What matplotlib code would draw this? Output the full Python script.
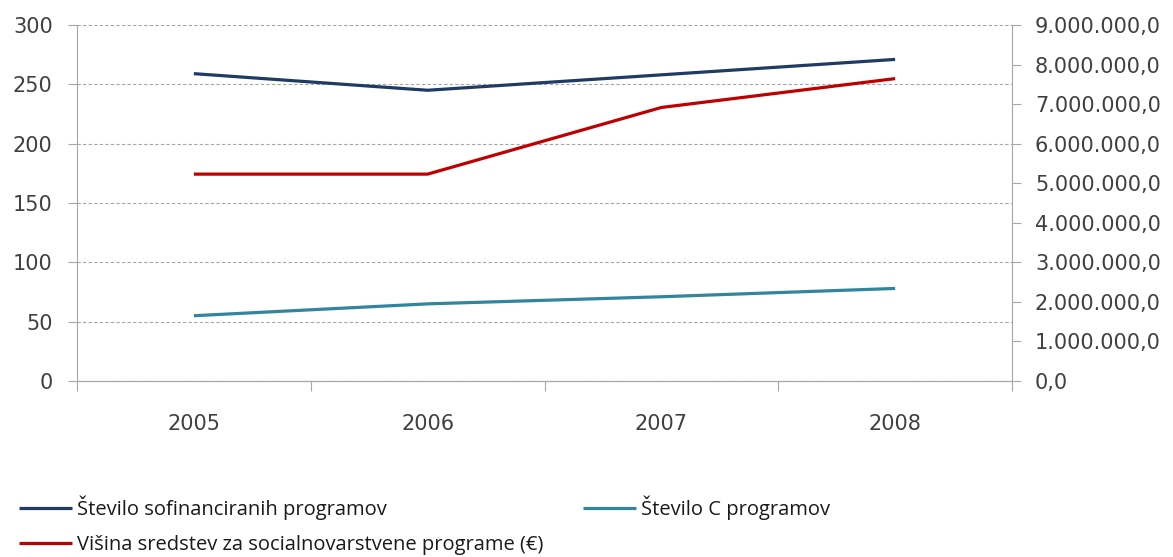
import numpy as np
import matplotlib as mpl
import matplotlib.pyplot as plt
from matplotlib.ticker import FuncFormatter, MultipleLocator

mpl.rcParams['font.family'] = ['DejaVu Sans']

# podatki
leta = ['2005', '2006', '2007', '2008']
st_programov = [259, 245, 258, 271]
st_c_programov = [55, 65, 71, 78]
sredstva = [5230000, 5230000, 6915000, 7645000]

oznake = ['Število sofinanciranih programov',
          'Število C programov',
          'Višina sredstev za socialnovarstvene programe (€)']
barve = ['#1f3b63', '#31859c', '#c00000']
siva = '#404040'
crta = '#a6a6a6'

W, H = 1173, 557
fig = plt.figure(figsize=(W / 100, H / 100), dpi=100)
ax = fig.add_axes([77 / W, 1 - 381 / H, (1012 - 77) / W, (381 - 25) / H])
ax2 = ax.twinx()

x = np.arange(len(leta))
l1, = ax.plot(x, st_programov, color=barve[0], lw=2.3, solid_capstyle='butt')
l2, = ax.plot(x, st_c_programov, color=barve[1], lw=2.3, solid_capstyle='butt')
l3, = ax2.plot(x, sredstva, color=barve[2], lw=2.3, solid_capstyle='butt')

ax.set_xlim(-0.5, 3.5)
ax.set_ylim(0, 300)
ax2.set_ylim(0, 9000000)
ax.yaxis.set_major_locator(MultipleLocator(50))
ax2.yaxis.set_major_locator(MultipleLocator(1000000))

ax.grid(axis='y', color=crta, ls=(0, (3, 2)), lw=0.8)
ax.set_axisbelow(True)

# meje kategorij na osi x
ax.set_xticks(np.arange(-0.5, 4, 1))
ax.set_xticklabels([])
ax.set_xticks(x, minor=True)
ax.set_xticklabels(leta, minor=True)
ax.tick_params(axis='x', which='major', length=7, color=crta, direction='out')
ax.tick_params(axis='x', which='minor', length=0, pad=24, labelsize=15, labelcolor=siva)
ax.tick_params(axis='y', length=6.5, color=crta, labelsize=15, labelcolor=siva, pad=11)
ax2.tick_params(axis='y', length=6.5, color=crta, labelsize=15, labelcolor=siva, pad=10)

def evro_fmt(v, pos):
    s = f'{v:,.1f}'
    return s.replace(',', 'X').replace('.', ',').replace('X', '.')

ax2.yaxis.set_major_formatter(FuncFormatter(evro_fmt))

for a in (ax, ax2):
    a.spines['top'].set_visible(False)
    for s in ('left', 'right', 'bottom'):
        a.spines[s].set_color(crta)
ax2.spines['left'].set_visible(False)
ax.spines['right'].set_visible(False)

leg_kw = dict(frameon=False, labelcolor='#1a1a1a', handlelength=2.65,
              handletextpad=0.25, borderpad=0, borderaxespad=0, labelspacing=0.7,
              prop={'family': ['Open Sans', 'DejaVu Sans'], 'size': 14.5})
leg1 = fig.legend([l1, l3], [oznake[0], oznake[2]], loc='upper left',
                  bbox_to_anchor=(19 / W, 1 - 496 / H), **leg_kw)
leg2 = fig.legend([l2], [oznake[1]], loc='upper left',
                  bbox_to_anchor=(583 / W, 1 - 496 / H), **leg_kw)

fig.savefig('out.png', dpi=100)
